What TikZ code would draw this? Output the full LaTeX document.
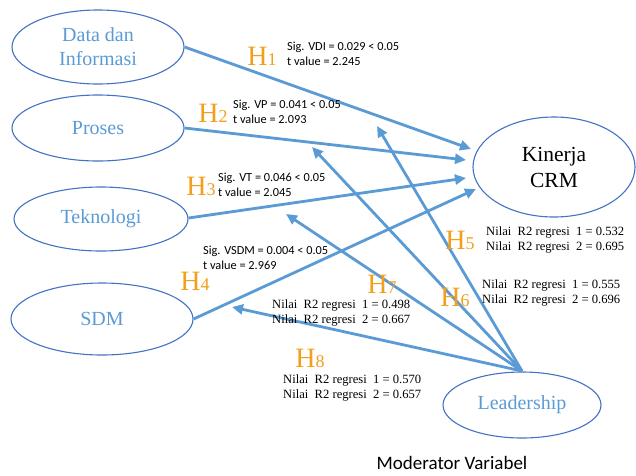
\documentclass[tikz,border=0pt]{standalone}
\usepackage{fontspec}
\setmainfont{Liberation Serif}
\newfontfamily\tnr{Liberation Serif}
\newfontfamily\calib{Carlito}
\usetikzlibrary{shapes.geometric,arrows.meta}
\definecolor{linkblue}{HTML}{5B9BD5}
\definecolor{rimblue}{HTML}{4472C4}
\definecolor{hypo}{HTML}{F2A01C}
\tikzset{
  var/.style={ellipse, draw=rimblue, line width=1.1pt, inner sep=0pt,
    text=linkblue, font=\tnr\fontsize{20}{24}\selectfont, align=center},
  link/.style={draw=linkblue, line width=2.8pt,
    -{Triangle[length=11pt,width=10pt]}},
  hyp/.style={text=hypo, inner sep=0pt, font=\tnr},
  sig/.style={font=\calib\fontsize{12.3}{15}\selectfont, align=left,
    anchor=west, inner sep=0pt, text=black},
  rsq/.style={font=\tnr\fontsize{12.6}{15.5}\selectfont, align=left,
    anchor=west, inner sep=0pt, text=black}
}
\newcommand{\hlab}[1]{{\fontsize{28}{28}\selectfont H}{\fontsize{18}{18}\selectfont #1}}
\begin{document}
\begin{tikzpicture}[x=1pt,y=-1pt]
\useasboundingbox (0,0) rectangle (636,475);
\fill[white] (0,0) rectangle (636,475);

% latent variables
\node[var, minimum width=172pt, minimum height=74pt] (data) at (98,47) {Data dan\\Informasi};
\node[var, minimum width=172pt, minimum height=66pt] (proses) at (98,128) {Proses};
\node[var, minimum width=174pt, minimum height=64pt] (tek) at (101,219) {Teknologi};
\node[var, minimum width=182pt, minimum height=72pt] (sdm) at (102,319) {SDM};
\node[var, text=black, font=\tnr\fontsize{21.5}{26}\selectfont, minimum width=162pt, minimum height=100pt] (crm) at (554,167) {Kinerja\\CRM};
\node[var, minimum width=158pt, minimum height=66pt] (lead) at (522,405) {Leadership};

% arrow tips
\coordinate (t1) at (471,149);
\coordinate (t2) at (466,160);
\coordinate (t3) at (466,178);
\coordinate (t4) at (476,189);
\coordinate (t5) at (377,126);
\coordinate (t6) at (312,147);
\coordinate (t7) at (286,214);
\coordinate (t8) at (232,307);

% direct effects
\draw[link] (data.east) -- (t1);
\draw[link] (proses.east) -- (t2);
\draw[link] ([yshift=1pt]tek.east) -- (t3);
\draw[link] (sdm.east) -- (t4);

% moderated effects
\coordinate (lt) at (522,371);
\draw[link] (lt) -- (t5);
\draw[link] (lt) -- (t6);
\draw[link] (lt) -- (t7);
\draw[link] (lt) -- (t8);

% hypothesis labels
\node[hyp] (h1) at (262,56) {\hlab{1}};
\node[hyp] (h2) at (213,113) {\hlab{2}};
\node[hyp] (h3) at (201,186) {\hlab{3}};
\node[hyp] (h4) at (195,281) {\hlab{4}};
\node[hyp] (h5) at (460,240) {\hlab{5}};
\node[hyp] (h6) at (455,297) {\hlab{6}};
\node[hyp] (h7) at (382,284) {\hlab{7}};
\node[hyp] (h8) at (310,358) {\hlab{8}};

% significance values
\node[sig] (s1) at (287,54) {Sig. VDI = 0.029 < 0.05\\t value = 2.245};
\node[sig] (s2) at (233,112) {Sig. VP = 0.041 < 0.05\\t value = 2.093};
\node[sig] (s3) at (218,185) {Sig. VT = 0.046 < 0.05\\t value = 2.045};
\node[sig] (s4) at (203,258) {Sig. VSDM = 0.004 < 0.05\\t value = 2.969};

% R-squared values
\node[rsq] (r5) at (486,240) {Nilai\ \ R2 regresi\ \ 1 = 0.532\\Nilai\ \ R2 regresi\ \ 2 = 0.695};
\node[rsq] (r6) at (482,293) {Nilai\ \ R2 regresi\ \ 1 = 0.555\\Nilai\ \ R2 regresi\ \ 2 = 0.696};
\node[rsq] (r7) at (272,313) {Nilai\ \ R2 regresi\ \ 1 = 0.498\\Nilai\ \ R2 regresi\ \ 2 = 0.667};
\node[rsq] (r8) at (283,388) {Nilai\ \ R2 regresi\ \ 1 = 0.570\\Nilai\ \ R2 regresi\ \ 2 = 0.657};

\node[font=\calib\fontsize{19}{19}\selectfont, text=black] (mod) at (452,463) {Moderator Variabel};
\end{tikzpicture}
\end{document}
